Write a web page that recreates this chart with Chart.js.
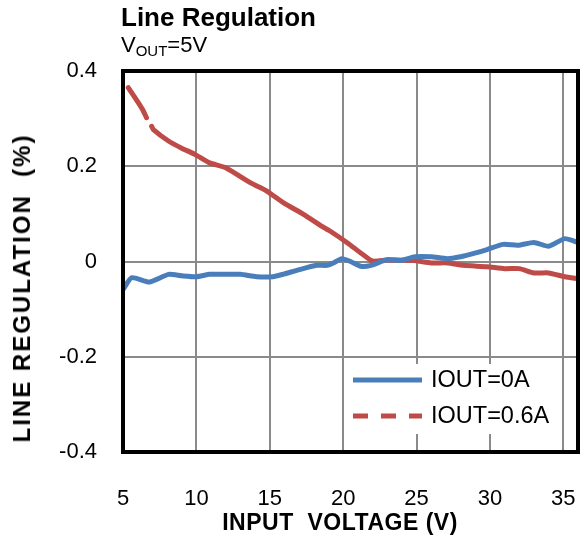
<!DOCTYPE html>
<html>
<head>
<meta charset="utf-8">
<script src="https://cdn.jsdelivr.net/npm/chart.js@4.4.1/dist/chart.umd.min.js"></script>
<style>
  body { margin: 0; background: #fff; }
  #wrap { position: relative; width: 584px; height: 537px; font-family: "Liberation Sans", Arial, sans-serif; color: #000; }
  #wrap canvas { position: absolute; left: 0; top: 0; }
  .txt { position: absolute; white-space: pre; line-height: 1; }
  #title { left: 121px; top: 4px; font-size: 26px; font-weight: bold; }
  #sub { left: 121px; top: 34px; font-size: 22px; }
  #sub sub { font-size: 15px; vertical-align: -4px; }
  #xtitle { left: 340px; top: 511px; font-size: 23px; font-weight: bold; letter-spacing: 0.5px; transform: translateX(-50%); }
  #ytitle { left: 22px; top: 288px; font-size: 24px; font-weight: bold; letter-spacing: 2px; transform: translate(-50%, -50%) rotate(-90deg); }
</style>
</head>
<body>
<div id="wrap">
  <canvas id="chart" width="584" height="537"></canvas>
  <div class="txt" id="title">Line Regulation</div>
  <div class="txt" id="sub">V<sub>OUT</sub>=5V</div>
  <div class="txt" id="xtitle">INPUT  VOLTAGE (V)</div>
  <div class="txt" id="ytitle">LINE REGULATION  (%)</div>
</div>
<script>
const xTicks = [5, 10, 15, 20, 25, 30, 35];
const yTicks = [-0.4, -0.2, 0, 0.2, 0.4];

// IOUT=0A
const voltsA = [5, 5.6, 6.8, 8.1, 9, 10, 10.9, 12, 13, 14.1, 15.2, 16, 16.9, 18.2, 18.9, 19.4, 19.9, 20.5, 21.2, 21.9, 23, 23.9, 24.9, 26, 27.1, 28, 28.9, 29.8, 30.9, 31.9, 33, 34, 35.1, 36];
const regA = [-0.059, -0.034, -0.043, -0.027, -0.03, -0.032, -0.027, -0.027, -0.027, -0.032, -0.032, -0.026, -0.018, -0.008, -0.008, -0.002, 0.006, 0, -0.01, -0.008, 0.004, 0.002, 0.01, 0.01, 0.006, 0.01, 0.017, 0.025, 0.036, 0.034, 0.04, 0.032, 0.048, 0.04];

// IOUT=0.6A
const voltsB = [5.36, 5.6, 6.05, 6.35, 6.6, 6.8, 6.95, 7.07, 8.1, 9, 9.9, 10.9, 12, 13.7, 14.8, 15.95, 17.3, 18.7, 19.1, 20.3, 21.2, 22, 23, 24.8, 26, 27.1, 28.2, 29.8, 31, 32, 33, 34, 35.1, 36];
const regB = [0.365, 0.354, 0.333, 0.318, 0.302, null, 0.284, 0.277, 0.253, 0.238, 0.225, 0.207, 0.197, 0.165, 0.148, 0.123, 0.099, 0.071, 0.064, 0.039, 0.018, 0.001, 0.003, 0.002, -0.003, -0.003, -0.008, -0.011, -0.015, -0.015, -0.024, -0.024, -0.032, -0.036];

const labels = ["IOUT=0A", "IOUT=0.6A"];
const colors = ["#4a7ebb", "#be4b48"];

const toPts = (xs, ys) => xs.map((x, i) => ({ x: x, y: ys[i] }));

const frame = {
  id: "frame",
  afterDatasetsDraw(chart) {
    const { ctx, chartArea: a } = chart;
    ctx.save();
    ctx.strokeStyle = "#000";
    ctx.lineWidth = 4;
    ctx.strokeRect(a.left, a.top, a.right - a.left, a.bottom - a.top);

    // legend box
    ctx.fillStyle = "#fff";
    ctx.fillRect(348, 364, 212, 70);
    ctx.font = "23.5px 'Liberation Sans', Arial, sans-serif";
    ctx.textBaseline = "middle";
    [380, 416].forEach((y, i) => {
      ctx.strokeStyle = colors[i];
      ctx.lineWidth = 5;
      ctx.setLineDash(i === 1 ? [15, 13] : []);
      ctx.beginPath();
      ctx.moveTo(353, y);
      ctx.lineTo(422, y);
      ctx.stroke();
      ctx.fillStyle = "#000";
      ctx.fillText(labels[i], 431, y + 1);
    });
    ctx.restore();
  }
};

new Chart(document.getElementById("chart"), {
  type: "line",
  data: {
    datasets: [
      { label: labels[0], data: toPts(voltsA, regA), borderColor: colors[0], borderWidth: 5, pointRadius: 0, tension: 0.2, borderJoinStyle: "round", borderCapStyle: "round" },
      { label: labels[1], data: toPts(voltsB, regB), borderColor: colors[1], borderWidth: 5, pointRadius: 0, tension: 0.2, spanGaps: false, borderJoinStyle: "round", borderCapStyle: "round" }
    ]
  },
  options: {
    responsive: false,
    animation: false,
    layout: { padding: { left: 0, top: 71, right: 6, bottom: 0 } },
    plugins: { legend: { display: false }, tooltip: { enabled: false } },
    scales: {
      x: {
        type: "linear",
        min: 5,
        max: 36,
        afterBuildTicks: s => { s.ticks = xTicks.map(v => ({ value: v })); },
        afterFit: s => { s.height = 85; s.paddingLeft = 0; s.paddingRight = 0; },
        grid: { color: "#8a8a8a", lineWidth: 2, drawTicks: false },
        border: { color: "#000", width: 4 },
        ticks: { padding: 34, color: "#000", font: { family: "'Liberation Sans', Arial, sans-serif", size: 22 } }
      },
      y: {
        min: -0.4,
        max: 0.4,
        afterBuildTicks: s => { s.ticks = yTicks.map(v => ({ value: v })); },
        afterFit: s => { s.width = 123; s.paddingTop = 0; s.paddingBottom = 0; },
        grid: { color: "#8a8a8a", lineWidth: 2, drawTicks: false },
        border: { color: "#000", width: 4 },
        ticks: {
          padding: 26,
          color: "#000",
          font: { family: "'Liberation Sans', Arial, sans-serif", size: 22 },
          callback: v => (v === 0 ? "0" : v.toFixed(1))
        }
      }
    }
  },
  plugins: [frame]
});
</script>
</body>
</html>
